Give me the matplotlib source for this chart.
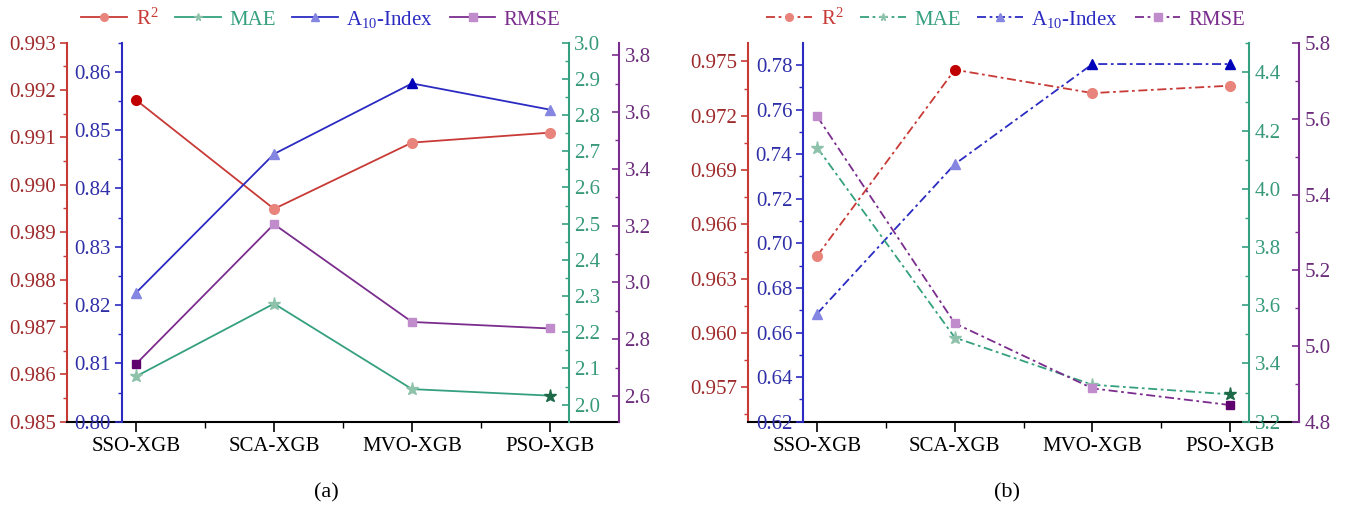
import matplotlib
matplotlib.use("Agg")
import matplotlib.pyplot as plt
from matplotlib.lines import Line2D
from matplotlib.ticker import MultipleLocator, FormatStrFormatter

plt.rcParams['font.family'] = ['Liberation Serif', 'DejaVu Serif']
plt.rcParams['mathtext.fontset'] = 'custom'
plt.rcParams['mathtext.rm'] = 'Liberation Serif'
plt.rcParams['mathtext.it'] = 'Liberation Serif:italic'

models = ['SSO-XGB', 'SCA-XGB', 'MVO-XGB', 'PSO-XGB']

# panel (a)
r2_a = [0.99179, 0.98949, 0.99089, 0.99110]
mae_a = [2.078, 2.279, 2.043, 2.025]
a10_a = [0.8221, 0.8459, 0.8580, 0.8535]
rmse_a = [2.713, 3.205, 2.861, 2.838]

# panel (b)
r2_b = [0.96426, 0.97454, 0.97325, 0.97366]
mae_b = [4.142, 3.489, 3.327, 3.294]
a10_b = [0.6685, 0.7355, 0.7804, 0.7804]
rmse_b = [5.607, 5.060, 4.888, 4.844]

# line colour, light marker, dark marker (best value), tick label colour
RED = ('#C83A36', '#E8847C', '#C00000', '#9E2A2B')
BLUE = ('#2B2BC2', '#8585E2', '#0000B8', '#2F2FA8')
GREEN = ('#35A07F', '#8FC2AA', '#1E6A48', '#36997A')
PURPLE = ('#7B2D8E', '#C08CCB', '#5E006E', '#6B2C7A')

FS = 15
W, H = 1350, 511
fig = plt.figure(figsize=(W / 100, H / 100), dpi=100)


def draw_series(ax, y, col, marker, ms, best, ls):
    x = list(range(len(y)))
    ax.plot(x, y, color=col[0], lw=1.3, ls=ls, zorder=2)
    for i, v in enumerate(y):
        fc = col[2] if v == best else col[1]
        ax.plot(i, v, marker=marker, ms=ms, mfc=fc, mec=fc, ls='none', zorder=3)


def style_y(ax, side, col, lim, major, minor, fmt, direction):
    ax.set_ylim(*lim)
    ax.yaxis.set_major_locator(MultipleLocator(major))
    ax.yaxis.set_minor_locator(MultipleLocator(minor))
    ax.yaxis.set_major_formatter(FormatStrFormatter(fmt))
    ax.yaxis.set_ticks_position(side)
    ax.tick_params(axis='y', which='major', direction=direction, length=5,
                   width=1.2, colors=col[0], labelcolor=col[3], labelsize=FS,
                   pad=3)
    ax.tick_params(axis='y', which='minor', direction=direction, length=3,
                   width=1.0, colors=col[0])
    for s in ax.spines.values():
        s.set_visible(False)
    ax.spines[side].set_visible(True)
    ax.spines[side].set_color(col[0])
    ax.spines[side].set_linewidth(1.5)


def panel(left, right, top, r2, mae, a10, rmse, lims, steps, ls, leg_x, tag):
    bottom = 421.7
    ax = fig.add_axes([left / W, (H - bottom) / H, (right - left) / W,
                       (bottom - top) / H])
    ax.set_xlim(-0.5, 3.5)
    ax.set_xticks(range(len(models)))
    ax.set_xticklabels(models)
    ax.set_xticks([0.5, 1.5, 2.5], minor=True)
    ax.tick_params(axis='x', which='major', direction='out', length=7,
                   width=1.2, labelsize=FS, pad=4)
    ax.tick_params(axis='x', which='minor', direction='out', length=4,
                   width=1.0)

    ax_b = ax.twinx()
    ax_g = ax.twinx()
    ax_p = ax.twinx()

    style_y(ax, 'left', RED, lims[0], steps[0], steps[0] / 2, '%.3f', 'out')
    ax.spines['bottom'].set_visible(True)
    ax.spines['bottom'].set_color('black')
    ax.spines['bottom'].set_linewidth(1.5)

    style_y(ax_b, 'left', BLUE, lims[1], steps[1], steps[1] / 2, '%.2f', 'out')
    ax_b.spines['left'].set_position(('axes', 0.1))
    style_y(ax_g, 'right', GREEN, lims[2], steps[2], steps[2] / 2, '%.1f', 'in')
    ax_g.spines['right'].set_position(('axes', 0.909))
    style_y(ax_p, 'right', PURPLE, lims[3], steps[3], steps[3] / 2, '%.1f', 'in')
    ax_g.tick_params(axis='y', which='major', pad=4)
    ax_p.tick_params(axis='y', which='major', pad=4)

    draw_series(ax, r2, RED, 'o', 7, max(r2), ls)
    draw_series(ax_g, mae, GREEN, '*', 9.5, min(mae), ls)
    draw_series(ax_b, a10, BLUE, '^', 7.5, max(a10), ls)
    draw_series(ax_p, rmse, PURPLE, 's', 6, min(rmse), ls)

    names = ['R$^2$', 'MAE', 'A$_{10}$-Index', 'RMSE']
    cols = [RED, GREEN, BLUE, PURPLE]
    marks = ['o', '*', '^', 's']
    handles = [Line2D([], [], color=c[0], lw=1.3, ls=ls, marker=m, ms=5.5,
                      mfc=c[1], mec=c[1]) for c, m in zip(cols, marks)]
    fig.legend(handles, names, loc='center', bbox_to_anchor=(leg_x / W, 1 - 19 / H),
               ncol=4, frameon=False, fontsize=FS, handlelength=2.2,
               handletextpad=0.4, columnspacing=0.8,
               labelcolor=[c[0] for c in cols])
    fig.text((left + right) / 2 / W - 0.012, 1 - 493 / H, tag, ha='center',
             va='center', fontsize=FS + 1)


panel(67, 619, 42.6, r2_a, mae_a, a10_a, rmse_a,
      [(0.985, 0.993), (0.80, 0.865), (1.953, 3.0), (2.51, 3.844)],
      [0.001, 0.01, 0.1, 0.2], '-', 321, '(a)')
panel(748.3, 1299, 43.3, r2_b, mae_b, a10_b, rmse_b,
      [(0.9551, 0.9760), (0.62, 0.7897), (3.2, 4.5), (4.8, 5.8)],
      [0.003, 0.02, 0.2, 0.2], (0, (5, 2, 1.5, 2)), 1006, '(b)')

fig.savefig('out.png', dpi=100)
